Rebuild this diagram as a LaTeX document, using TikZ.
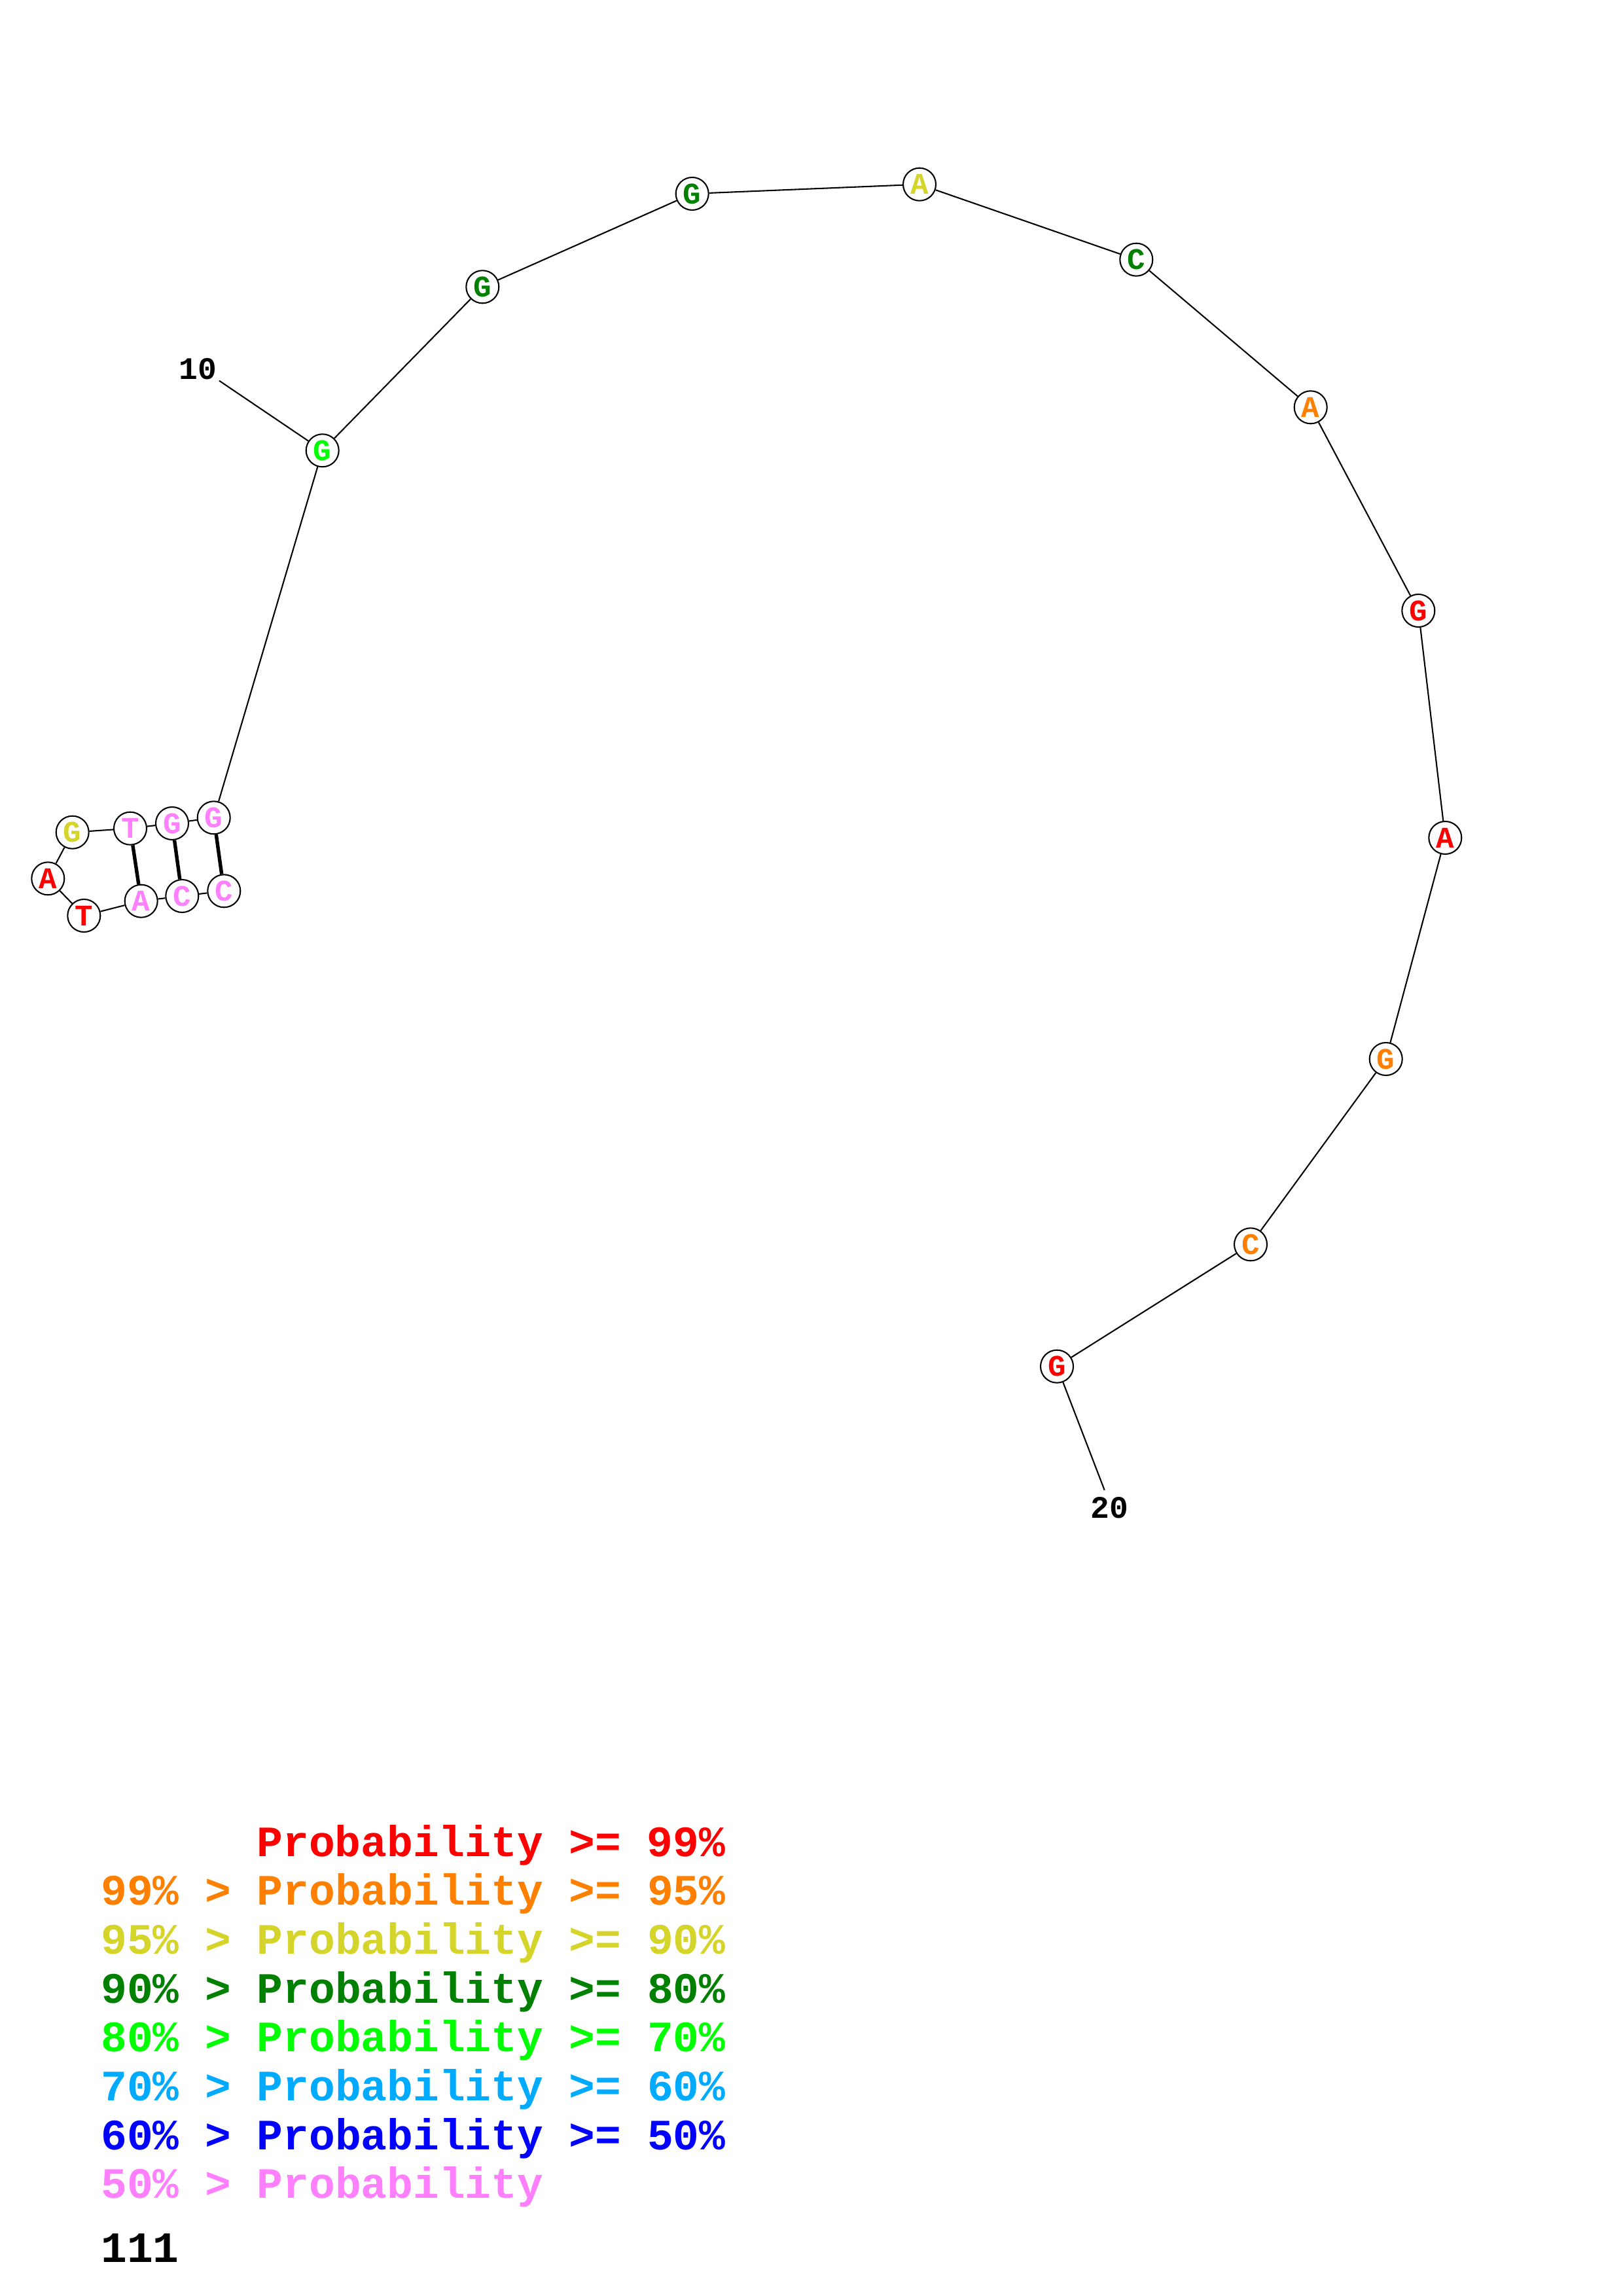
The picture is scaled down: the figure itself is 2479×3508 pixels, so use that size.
\documentclass[tikz,border=0pt]{standalone}
\usepackage{fontspec}
\setmonofont{Liberation Mono}
\definecolor{pr}{RGB}{255,0,0}
\definecolor{po}{RGB}{255,128,0}
\definecolor{py}{RGB}{212,212,42}
\definecolor{pdg}{RGB}{0,128,0}
\definecolor{pg}{RGB}{0,255,0}
\definecolor{plb}{RGB}{0,170,255}
\definecolor{pb}{RGB}{0,0,255}
\definecolor{pp}{RGB}{255,128,255}
\tikzset{
  base/.style={circle,draw=black,line width=0.5pt,fill=white,minimum size=12pt,inner sep=0pt,
    font=\fontsize{11}{11}\selectfont\ttfamily\bfseries},
  bb/.style={line width=0.5pt},
  pairline/.style={line width=1.3pt},
  numlab/.style={font=\fontsize{11.5}{11.5}\selectfont\ttfamily\bfseries,inner sep=0pt},
  leg/.style={anchor=base west,inner sep=0pt,font=\fontsize{15.9}{15.9}\selectfont\ttfamily\bfseries}
}
\begin{document}
\begin{tikzpicture}[x=0.24pt,y=-0.24pt]
\useasboundingbox (0,0) rectangle (2479,3508);
% nucleotides
\node[base,text=pp]  (n1)  at (342.3,1361.3) {C};
\node[base,text=pp]  (n2)  at (278.3,1369) {C};
\node[base,text=pp]  (n3)  at (215.7,1376.7) {A};
\node[base,text=pr]  (n4)  at (128.3,1399) {T};
\node[base,text=pr]  (n5)  at (73.3,1342.3) {A};
\node[base,text=py]  (n6)  at (110.7,1271.7) {G};
\node[base,text=pp]  (n7)  at (199,1265.7) {T};
\node[base,text=pp]  (n8)  at (263,1258) {G};
\node[base,text=pp]  (n9)  at (326.7,1249.3) {G};
\node[base,text=pg]  (n10) at (492.7,688.3) {G};
\node[base,text=pdg] (n11) at (737.3,438.3) {G};
\node[base,text=pdg] (n12) at (1057.7,296) {G};
\node[base,text=py]  (n13) at (1405,281.7) {A};
\node[base,text=pdg] (n14) at (1736.3,396.7) {C};
\node[base,text=po]  (n15) at (2002.7,622.3) {A};
\node[base,text=pr]  (n16) at (2167.3,933) {G};
\node[base,text=pr]  (n17) at (2208.3,1280) {A};
\node[base,text=po]  (n18) at (2117.7,1618) {G};
\node[base,text=po]  (n19) at (1911,1901.3) {C};
\node[base,text=pr]  (n20) at (1615,2087.7) {G};
% backbone
\foreach \a/\b in {1/2,2/3,3/4,4/5,5/6,6/7,7/8,8/9,9/10,10/11,11/12,12/13,13/14,14/15,15/16,16/17,17/18,18/19,19/20}
  \draw[bb] (n\a) -- (n\b);
% base pairs
\draw[pairline] (n1) -- (n9);
\draw[pairline] (n2) -- (n8);
\draw[pairline] (n3) -- (n7);
% position labels
\node[numlab] (l10) at (302.7,563.3) {10};
\coordinate (c10) at (335,581.7);
\draw[bb] (c10) -- (n10);
\node[numlab] (l20) at (1695,2303.3) {20};
\coordinate (c20) at (1687.7,2276.7);
\draw[bb] (n20) -- (c20);
% legend
\node[leg,text=pr]  (g1) at (391.8,2836) {Probability >= 99\%};
\node[leg,text=po]  (g2) at (153.6,2910.7) {99\% > Probability >= 95\%};
\node[leg,text=py]  (g3) at (153.6,2985.4) {95\% > Probability >= 90\%};
\node[leg,text=pdg] (g4) at (153.6,3060.1) {90\% > Probability >= 80\%};
\node[leg,text=pg]  (g5) at (153.6,3134.8) {80\% > Probability >= 70\%};
\node[leg,text=plb] (g6) at (153.6,3209.5) {70\% > Probability >= 60\%};
\node[leg,text=pb]  (g7) at (153.6,3284.2) {60\% > Probability >= 50\%};
\node[leg,text=pp]  (g8) at (153.6,3358.9) {50\% > Probability};
\node[leg,text=black] (g9) at (153.6,3456) {111};
\end{tikzpicture}
\end{document}
